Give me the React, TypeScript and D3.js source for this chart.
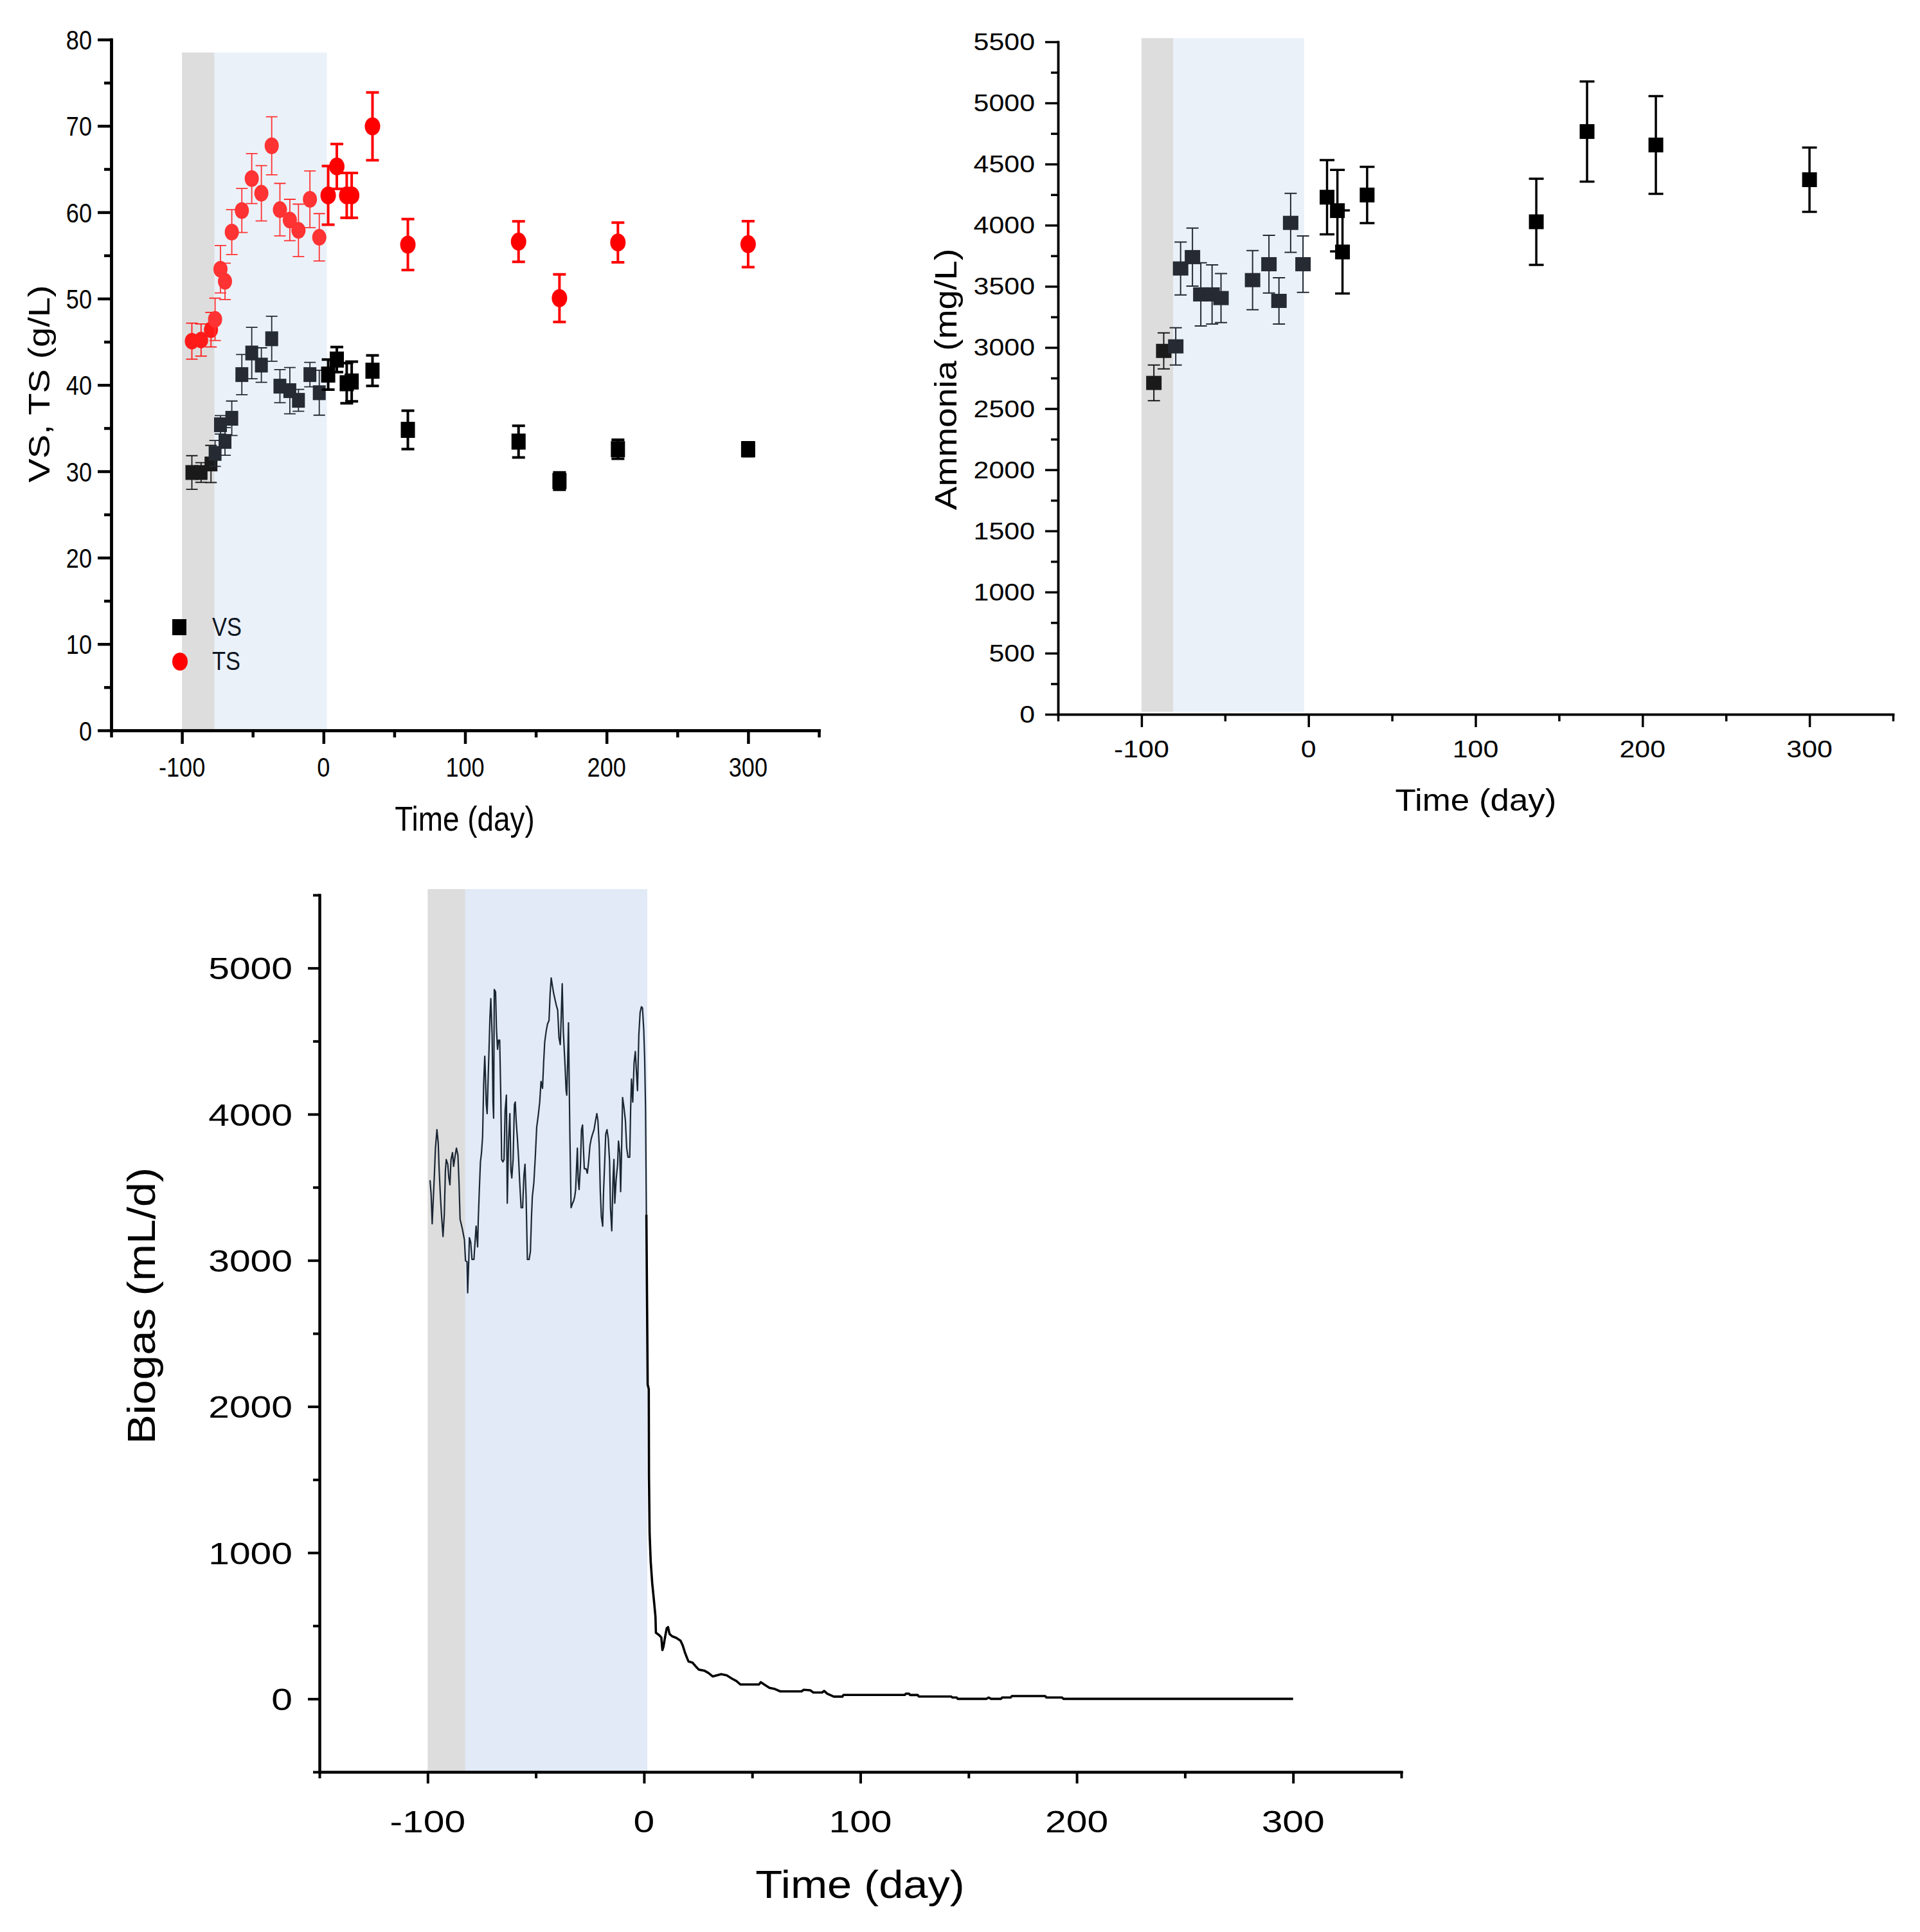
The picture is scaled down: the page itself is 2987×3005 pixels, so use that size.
import React, { useEffect, useRef } from 'react';
import * as d3 from 'd3';

// ---- VS / TS (g/L), same sampling days for both series ----
const solidsDays = [-93, -86.5, -79.5, -76.6, -72.8, -69.6, -64.8, -57.7, -50.7, -43.9, -36.6, -30.8, -23.8, -17.7, -9.6, -3, 3.3, 9.4, 16.4, 19.9, 34.6, 59.6, 137.8, 166.7, 208, 300];
const vsValues = [29.86, 29.86, 30.85, 32.07, 35.39, 33.46, 36.14, 41.2, 43.7, 42.3, 45.35, 39.86, 39.34, 38.22, 41.2, 39.1, 41.2, 42.94, 40.2, 40.4, 41.65, 34.8, 33.44, 28.87, 32.56, 32.56];
const vsErrors = [1.95, 1.14, 2.15, 1.5, 1.07, 1.6, 2.0, 2.32, 2.98, 2.0, 2.6, 1.92, 2.68, 1.27, 1.41, 2.6, 1.74, 1.46, 2.33, 2.3, 1.77, 2.23, 1.84, 1.0, 1.1, 0.8];
const tsValues = [45.07, 45.2, 46.4, 47.6, 53.4, 52.0, 57.7, 60.2, 63.9, 62.2, 67.7, 60.3, 59.1, 57.9, 61.5, 57.1, 61.95, 65.3, 61.95, 61.95, 69.95, 56.25, 56.6, 50.05, 56.5, 56.3];
const tsErrors = [2.08, 1.86, 2.0, 2.45, 2.75, 2.1, 2.6, 2.55, 2.9, 3.2, 3.36, 3.04, 2.4, 3.04, 3.28, 2.74, 3.4, 2.6, 2.6, 2.6, 3.93, 2.95, 2.35, 2.76, 2.3, 2.66];

// ---- Ammonia (mg/L) ----
const ammoniaDays = [-92.6, -86.7, -79.5, -76.6, -69.5, -64.5, -57.75, -52.4, -33.5, -23.7, -17.7, -10.7, -3.3, 11.1, 17.3, 20.35, 35.1, 136.4, 166.8, 208, 300];
const ammoniaValues = [2710, 2972, 3009, 3646, 3739, 3434, 3434, 3404, 3551, 3681, 3381, 4019, 3681, 4229, 4119, 3781, 4247, 4028, 4766, 4656, 4372];
const ammoniaErrors = [146, 147, 153, 216, 237, 258, 242, 200, 242, 236, 189, 241, 231, 304, 333, 340, 230, 352, 409, 400, 263];

// ---- Biogas (mL/d) ----
const biogasDays = [
  -98.9, -98.4, -97.9, -96.9, -96.4, -95.7, -95.1, -94.7, -94.1, -93.6,
  -92.9, -92.3, -91.8, -91.4, -90.7, -90.2, -89.7, -89.2, -88.5, -88.0,
  -87.4, -86.7, -86.0, -85.5, -85.0, -84.0, -83.0, -82.5, -81.8, -81.5,
  -81.0, -80.7, -80.1, -79.5, -78.6, -78.1, -77.6, -76.9, -76.6, -76.1,
  -75.6, -75.1, -74.6, -74.1, -73.6, -73.3, -72.9, -72.5, -72.1, -71.6,
  -71.2, -70.8, -70.2, -69.8, -69.5, -69.2, -68.6, -68.2, -67.7, -67.2,
  -66.7, -66.2, -65.8, -65.2, -64.7, -64.2, -63.6, -63.2, -62.6, -62.0,
  -61.5, -61.1, -60.5, -59.9, -59.5, -59.1, -58.5, -58.0, -57.5, -56.8,
  -56.1, -55.5, -55.0, -54.5, -53.9, -53.1, -52.5, -52.0, -51.6, -50.9,
  -50.2, -49.6, -48.9, -48.2, -47.6, -46.9, -46.4, -45.9, -45.2, -44.6,
  -43.9, -43.4, -42.9, -42.4, -41.8, -41.2, -40.5, -39.9, -39.3, -38.7,
  -38.3, -37.8, -37.3, -36.5, -36.0, -35.7, -35.3, -34.9, -34.3, -33.7,
  -33.0, -32.5, -32.0, -31.6, -31.2, -30.8, -30.4, -30.0, -29.4, -28.9,
  -28.4, -28.0, -27.6, -26.8, -26.2, -25.6, -25.0, -24.4, -23.8, -23.1,
  -22.4, -21.8, -21.3, -20.7, -20.2, -19.7, -19.1, -18.7, -18.2, -17.7,
  -17.1, -16.5, -15.9, -15.5, -14.9, -14.3, -13.9, -13.5, -12.9, -12.2,
  -11.8, -11.2, -10.8, -10.4, -9.9, -9.3, -8.6, -8.0, -7.4, -6.6,
  -6.2, -5.8, -5.2, -4.6, -4.0, -3.5, -3.0, -2.4, -1.8, -1.2,
  -0.7, -0.1, 0.3, 0.7, 1.1,
  1.7, 2.2, 2.3, 2.6, 3.1, 3.8, 4.6, 5.3, 5.5, 7.0,
  8.0, 8.5, 9.0, 9.7, 10.5, 11.1, 11.8, 13.0, 14.9, 16.9,
  17.9, 18.9, 19.9, 20.6, 22.4, 23.8, 25.3, 27.8, 29.8, 31.8,
  33.7, 35.7, 38.2, 40.7, 42.7, 44.6, 53.1, 54.0, 56.0, 58.0,
  60.5, 63.0, 72.8, 73.8, 76.8, 78.3, 82.3, 83.3, 84.7, 87.7,
  91.7, 92.2, 120.5, 121, 122.5, 123, 126.5, 127, 142, 142.5,
  144.5, 145, 158.3, 159.3, 160.4, 165, 165.5, 169.5, 170, 185.4,
  186, 193.2, 193.8, 300
];
const biogasValues = [
  3548, 3454, 3250, 3580, 3768, 3894, 3800, 3627, 3438, 3313,
  3163, 3313, 3611, 3690, 3658, 3564, 3517, 3690, 3737, 3643,
  3706, 3768, 3721, 3533, 3281, 3218, 3140, 2998, 2990, 2778,
  2998, 3155, 3124, 3006, 3006, 3124, 3234, 3092, 3281, 3485,
  3674, 3737, 3847, 4209, 4397, 4271, 4067, 4004, 4209, 4460,
  4664, 4790, 4539, 4083, 3973, 4853, 4837, 4586, 4444, 4507,
  4507, 4130, 3690, 3674, 3690, 4020, 4130, 3391, 3816, 4004,
  3611, 3564, 3690, 4067, 4083, 3957, 3831, 3706, 3548, 3360,
  3360, 3580, 3658, 3438, 3006, 3006, 3061, 3297, 3438, 3533,
  3721, 3910, 3989, 4083, 4224, 4177, 4350, 4492, 4570, 4617,
  4641, 4822, 4932, 4885, 4830, 4790, 4743, 4712, 4523, 4476,
  4649, 4892, 4570, 4334, 4161, 4130, 4350, 4625, 3894, 3360,
  3391, 3407, 3438, 3485, 3627, 3768, 3548, 3485, 3643, 3894,
  3926, 3768, 3627, 3627, 3596, 3674, 3784, 3831, 3863, 3894,
  3957, 4004, 3957, 3784, 3470, 3297, 3234, 3470, 3658, 3863,
  3894, 3831, 3674, 3360, 3202, 3564, 3690, 3391, 3548, 3658,
  3816, 3737, 3470, 3721, 4114, 4051, 3957, 3768, 3706, 3706,
  4020, 4240, 4083, 4350, 4429, 4287, 4161, 4539, 4696, 4735,
  4727, 4570, 4381, 4051, 3313,
  2150, 2120, 1520, 1128, 939, 790, 672, 562, 452, 436,
  420, 334, 358, 420, 483, 491, 444, 428, 417, 397,
  365, 318, 279, 255, 248, 224, 200, 193, 177, 153,
  161, 169, 161, 138, 122, 98, 98, 114, 94, 75,
  67, 51, 51, 62, 59, 43, 43, 54, 35, 15,
  15, 27, 27, 35, 35, 26, 26, 16, 16, 9,
  9, 0, 0, 9, 0, 0, 9, 9, 19, 19,
  9, 9, 0, 0
];

// shaded phases: [start, end of first phase, end of second phase] in days
const solidsPhases = [-100, -77, 2.4];
const ammoniaPhases = [-100, -81, -2.6];
const biogasPhases = [-100, -82.6, 1.5];
const feedStopDay = 1.1;

const FONT = '"Liberation Sans", Arial, Helvetica, sans-serif';
const GRAY = '#dddddd';

function addText(g: any, str: string, x: number, y: number, size: number, opt: any = {}) {
  g.append('text')
    .attr('transform', `translate(${x},${y})${opt.rotate ? ' rotate(-90)' : ''} scale(${opt.sx ?? 1},${opt.sy ?? 1})`)
    .attr('text-anchor', opt.anchor ?? 'middle')
    .style('font-family', FONT)
    .style('font-size', `${size}px`)
    .attr('fill', opt.fill ?? '#000')
    .text(str);
}

function drawAxes(g: any, x: any, y: any, s: any) {
  const x0 = x.range()[0];
  const y0 = y.range()[0];
  const styleAxis = (a: any) => {
    a.select('.domain').attr('stroke-width', s.width).attr('stroke-linecap', 'square');
    a.selectAll('line').attr('stroke-width', s.width);
    a.selectAll('text').remove();
  };
  g.append('g').attr('transform', `translate(${x0},0)`)
    .call(d3.axisLeft(y).tickValues(s.yMinor).tickSize(s.minorLen).tickSizeOuter(0)).call(styleAxis);
  g.append('g').attr('transform', `translate(${x0},0)`)
    .call(d3.axisLeft(y).tickValues(s.yMajor).tickSize(s.majorLen).tickSizeOuter(0)).call(styleAxis);
  g.append('g').attr('transform', `translate(0,${y0})`)
    .call(d3.axisBottom(x).tickValues(s.xMinor).tickSize(s.minorLen).tickSizeOuter(0)).call(styleAxis);
  g.append('g').attr('transform', `translate(0,${y0})`)
    .call(d3.axisBottom(x).tickValues(s.xMajor).tickSize(s.majorLen).tickSizeOuter(0)).call(styleAxis);

  s.yLabels.forEach((v: number) => addText(g, String(v), s.yLabelX, y(v) + s.yLabelDy, s.fontSize, { anchor: 'end', sx: s.sx }));
  s.xMajor.forEach((v: number) => addText(g, String(v), x(v), s.xLabelY, s.fontSize, { sx: s.sx }));
}

function drawBands(g: any, x: any, y: any, phases: number[], top: number, bottom: number, blue: string) {
  g.append('rect')
    .attr('x', x(phases[0])).attr('width', x(phases[1]) - x(phases[0]))
    .attr('y', y(top)).attr('height', y(bottom) - y(top))
    .attr('fill', GRAY);
  g.append('rect')
    .attr('x', x(phases[1])).attr('width', x(phases[2]) - x(phases[1]))
    .attr('y', y(top)).attr('height', y(bottom) - y(top))
    .attr('fill', blue);
}

// error bars + marker, style depends on which phase the point falls in
function drawSeries(g: any, x: any, y: any, days: number[], values: number[], errors: number[], phases: number[], st: any) {
  const data = days.map((day, i) => ({ day, v: values[i], e: errors[i] }));
  const inner = (d: any) => d.day < phases[2];
  const color = (d: any) => (d.day < phases[1] ? st.colors[0] : d.day < phases[2] ? st.colors[1] : st.colors[2]);
  const pts = g.append('g').selectAll('g').data(data).join('g');
  pts.append('path')
    .attr('d', (d: any) => {
      const cx = x(d.day);
      const y1 = y(d.v - d.e);
      const y2 = y(d.v + d.e);
      const c = (inner(d) ? st.capInner : st.capOuter) / 2;
      return `M${cx},${y1}V${y2}M${cx - c},${y1}H${cx + c}M${cx - c},${y2}H${cx + c}`;
    })
    .attr('fill', 'none')
    .attr('stroke', color)
    .attr('stroke-width', (d: any) => (inner(d) ? st.errInner : st.errOuter));
  if (st.shape === 'circle') {
    pts.append('ellipse')
      .attr('cx', (d: any) => x(d.day)).attr('cy', (d: any) => y(d.v))
      .attr('rx', (d: any) => (inner(d) ? st.size[0] : st.size[2]))
      .attr('ry', (d: any) => (inner(d) ? st.size[1] : st.size[3]))
      .attr('fill', color);
  } else {
    pts.append('rect')
      .attr('x', (d: any) => x(d.day) - (inner(d) ? st.size[0] : st.size[2]) / 2)
      .attr('y', (d: any) => y(d.v) - (inner(d) ? st.size[1] : st.size[3]) / 2)
      .attr('width', (d: any) => (inner(d) ? st.size[0] : st.size[2]))
      .attr('height', (d: any) => (inner(d) ? st.size[1] : st.size[3]))
      .attr('fill', color);
  }
}

function drawSolids(svg: any) {
  const g = svg.append('g');
  const x = d3.scaleLinear().domain([-150, 350]).range([173, 1274]);
  const y = d3.scaleLinear().domain([0, 80]).range([1136, 61.5]);

  drawBands(g, x, y, solidsPhases, 78.5, 0, '#eaf1f9');

  drawSeries(g, x, y, solidsDays, vsValues, vsErrors, solidsPhases, {
    shape: 'square', colors: ['#1a1a1a', '#252a33', '#000000'],
    size: [20, 23, 22, 25], capInner: 18, capOuter: 20, errInner: 1.8, errOuter: 4
  });
  drawSeries(g, x, y, solidsDays, tsValues, tsErrors, solidsPhases, {
    shape: 'circle', colors: ['#ff1a1a', '#ff3333', '#ff0000'],
    size: [11, 13, 12, 14], capInner: 18, capOuter: 20, errInner: 1.8, errOuter: 4
  });

  drawAxes(g, x, y, {
    xMajor: [-100, 0, 100, 200, 300], xMinor: [-150, -50, 50, 150, 250, 350],
    yMajor: d3.range(0, 81, 10), yMinor: d3.range(5, 80, 10), yLabels: d3.range(0, 81, 10),
    majorLen: 21, minorLen: 11, width: 4.5, fontSize: 43, sx: 0.84,
    xLabelY: 1208, yLabelX: 143, yLabelDy: 15.5
  });

  // legend
  g.append('rect').attr('x', 268).attr('y', 963).attr('width', 22).attr('height', 25).attr('fill', '#000');
  g.append('ellipse').attr('cx', 280).attr('cy', 1029).attr('rx', 12).attr('ry', 14).attr('fill', '#ff0000');
  addText(g, 'VS', 330, 989, 41, { anchor: 'start', sx: 0.84, fill: '#0d1520' });
  addText(g, 'TS', 330, 1042, 41, { anchor: 'start', sx: 0.84, fill: '#0d1520' });

  addText(g, 'Time (day)', 723, 1292, 54, { sx: 0.85 });
  addText(g, 'VS, TS (g/L)', 77, 597, 56, { rotate: true, sy: 0.84 });
}

function drawAmmonia(svg: any) {
  const g = svg.append('g');
  const x = d3.scaleLinear().domain([-150, 350]).range([1646, 2945]);
  const y = d3.scaleLinear().domain([0, 5500]).range([1111, 65]);

  drawBands(g, x, y, ammoniaPhases, 5530, 20, '#eaf1f9');

  drawSeries(g, x, y, ammoniaDays, ammoniaValues, ammoniaErrors, ammoniaPhases, {
    shape: 'square', colors: ['#1a1a1a', '#252a33', '#000000'],
    size: [24, 22, 23, 23], capInner: 19, capOuter: 23, errInner: 2, errOuter: 3.5
  });

  drawAxes(g, x, y, {
    xMajor: [-100, 0, 100, 200, 300], xMinor: [-150, -50, 50, 150, 250, 350],
    yMajor: d3.range(0, 5501, 500), yMinor: d3.range(250, 5500, 500), yLabels: d3.range(0, 5501, 500),
    majorLen: 20, minorLen: 11, width: 3.5, fontSize: 37, sx: 1.16,
    xLabelY: 1178, yLabelX: 1610, yLabelDy: 13
  });

  addText(g, 'Time (day)', 2296, 1261, 49, { sx: 1.08 });
  addText(g, 'Ammonia (mg/L)', 1488, 590, 55, { rotate: true, sy: 0.88 });
}

function drawBiogas(svg: any) {
  const g = svg.append('g');
  const x = d3.scaleLinear().domain([-150, 350]).range([497, 2180]);
  const y = d3.scaleLinear().domain([-500, 5500]).range([2756, 1392]);

  drawBands(g, x, y, biogasPhases, 5540, -500, '#e1eaf6');

  const pts = biogasDays.map((day, i) => ({ day, v: biogasValues[i] }));
  const line = d3.line<any>().x((d) => x(d.day)).y((d) => y(d.v));
  g.append('path')
    .datum(pts.filter((d) => d.day <= feedStopDay))
    .attr('d', line)
    .attr('fill', 'none')
    .attr('stroke', '#1b2634')
    .attr('stroke-width', 2.2)
    .attr('stroke-linejoin', 'round');
  g.append('path')
    .datum(pts.filter((d) => d.day >= feedStopDay))
    .attr('d', line)
    .attr('fill', 'none')
    .attr('stroke', '#000')
    .attr('stroke-width', 3.6)
    .attr('stroke-linejoin', 'round');

  drawAxes(g, x, y, {
    xMajor: [-100, 0, 100, 200, 300], xMinor: [-150, -50, 50, 150, 250, 350],
    yMajor: d3.range(0, 5001, 1000), yMinor: d3.range(-500, 5501, 1000), yLabels: d3.range(0, 5001, 1000),
    majorLen: 18, minorLen: 10, width: 4, fontSize: 49, sx: 1.2,
    xLabelY: 2850, yLabelX: 455, yLabelDy: 17.5
  });

  addText(g, 'Time (day)', 1338, 2952, 62, { sx: 1.107 });
  addText(g, 'Biogas (mL/d)', 241, 2031, 61, { rotate: true, sx: 1.134 });
}

export default function App() {
  const chartRef = useRef<SVGSVGElement>(null);

  useEffect(() => {
    document.body.style.margin = '0';
    if (!chartRef.current) return;
    const svg = d3.select(chartRef.current);
    svg.selectAll('*').remove();
    drawSolids(svg);
    drawAmmonia(svg);
    drawBiogas(svg);
  }, []);

  return (
    <svg ref={chartRef} width={2987} height={3005} style={{ display: 'block', background: '#fff' }} />
  );
}
